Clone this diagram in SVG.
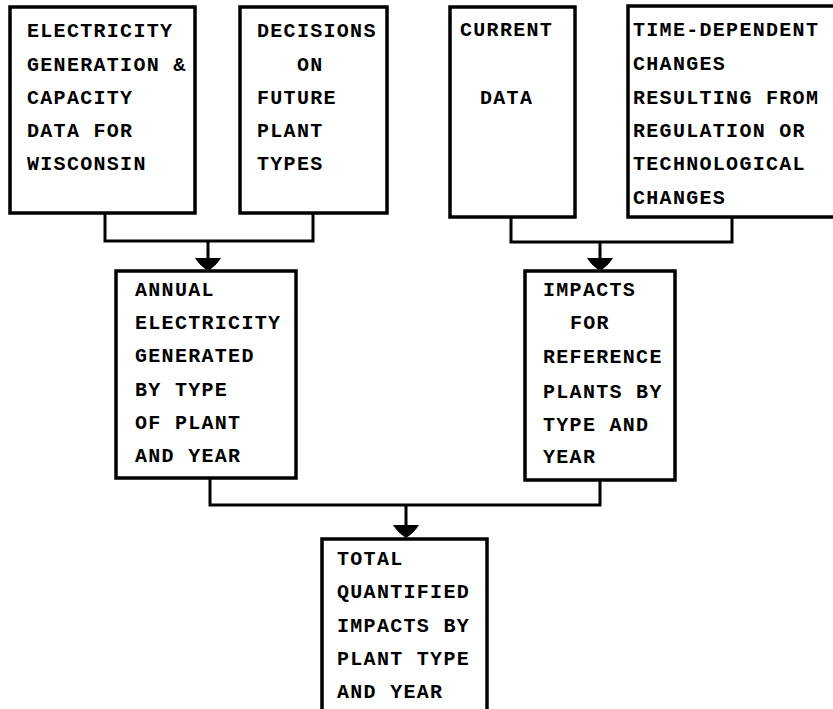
<svg xmlns="http://www.w3.org/2000/svg" width="833" height="709" viewBox="0 0 833 709">
<defs>
<style>
.box{fill:#fff;stroke:#000;stroke-width:3.5;stroke-linejoin:miter}
.con{fill:none;stroke:#000;stroke-width:3;stroke-linejoin:miter}
.ah{fill:#000;stroke:none}
text{font-family:"Liberation Mono","DejaVu Sans Mono",monospace;font-weight:bold;font-size:20px;letter-spacing:1.3px;fill:#000}
</style>
<path id="head" d="M-13,0 L13,0 Q8,8 0,13 Q-8,8 -13,0 Z"/>
</defs>
<rect width="833" height="709" fill="#fff"/>
<g id="connectors">
<polyline class="con" points="105,213 105,241 313,241 313,213"/>
<line class="con" x1="208" y1="241" x2="208" y2="260"/>
<use href="#head" class="ah" x="208" y="258"/>
<polyline class="con" points="511,217 511,242 732,242 732,217"/>
<line class="con" x1="600" y1="242" x2="600" y2="260"/>
<use href="#head" class="ah" x="600" y="258"/>
<polyline class="con" points="210,478 210,505 600,505 600,480"/>
<line class="con" x1="406" y1="505" x2="406" y2="527"/>
<use href="#head" class="ah" x="406" y="525"/>
</g>
<g id="n1">
<rect class="box" x="10" y="7" width="185" height="206"/>
<text x="27" y="37">ELECTRICITY</text>
<text x="27" y="71">GENERATION &amp;</text>
<text x="27" y="104">CAPACITY</text>
<text x="27" y="137">DATA FOR</text>
<text x="27" y="170">WISCONSIN</text>
</g>
<g id="n2">
<rect class="box" x="240" y="7" width="147" height="206"/>
<text x="257" y="37">DECISIONS</text>
<text x="297" y="71">ON</text>
<text x="257" y="104">FUTURE</text>
<text x="257" y="137">PLANT</text>
<text x="257" y="170">TYPES</text>
</g>
<g id="n3">
<rect class="box" x="450" y="7" width="125" height="210"/>
<text x="460" y="36">CURRENT</text>
<text x="480" y="104">DATA</text>
</g>
<g id="n4">
<rect class="box" x="628" y="6" width="212" height="211"/>
<text x="633" y="36">TIME-DEPENDENT</text>
<text x="633" y="70">CHANGES</text>
<text x="633" y="104">RESULTING FROM</text>
<text x="633" y="137">REGULATION OR</text>
<text x="633" y="170">TECHNOLOGICAL</text>
<text x="633" y="204">CHANGES</text>
</g>
<g id="n5">
<rect class="box" x="116" y="271" width="180" height="207"/>
<text x="135" y="296">ANNUAL</text>
<text x="135" y="329">ELECTRICITY</text>
<text x="135" y="362">GENERATED</text>
<text x="135" y="396">BY TYPE</text>
<text x="135" y="429">OF PLANT</text>
<text x="135" y="462">AND YEAR</text>
</g>
<g id="n6">
<rect class="box" x="525" y="271" width="150" height="209"/>
<text x="543" y="296">IMPACTS</text>
<text x="570" y="329">FOR</text>
<text x="543" y="363">REFERENCE</text>
<text x="543" y="398">PLANTS BY</text>
<text x="543" y="431">TYPE AND</text>
<text x="543" y="463">YEAR</text>
</g>
<g id="n7">
<rect class="box" x="322" y="539" width="165" height="180"/>
<text x="337" y="565">TOTAL</text>
<text x="337" y="598">QUANTIFIED</text>
<text x="337" y="632">IMPACTS BY</text>
<text x="337" y="665">PLANT TYPE</text>
<text x="337" y="698">AND YEAR</text>
</g>
</svg>
